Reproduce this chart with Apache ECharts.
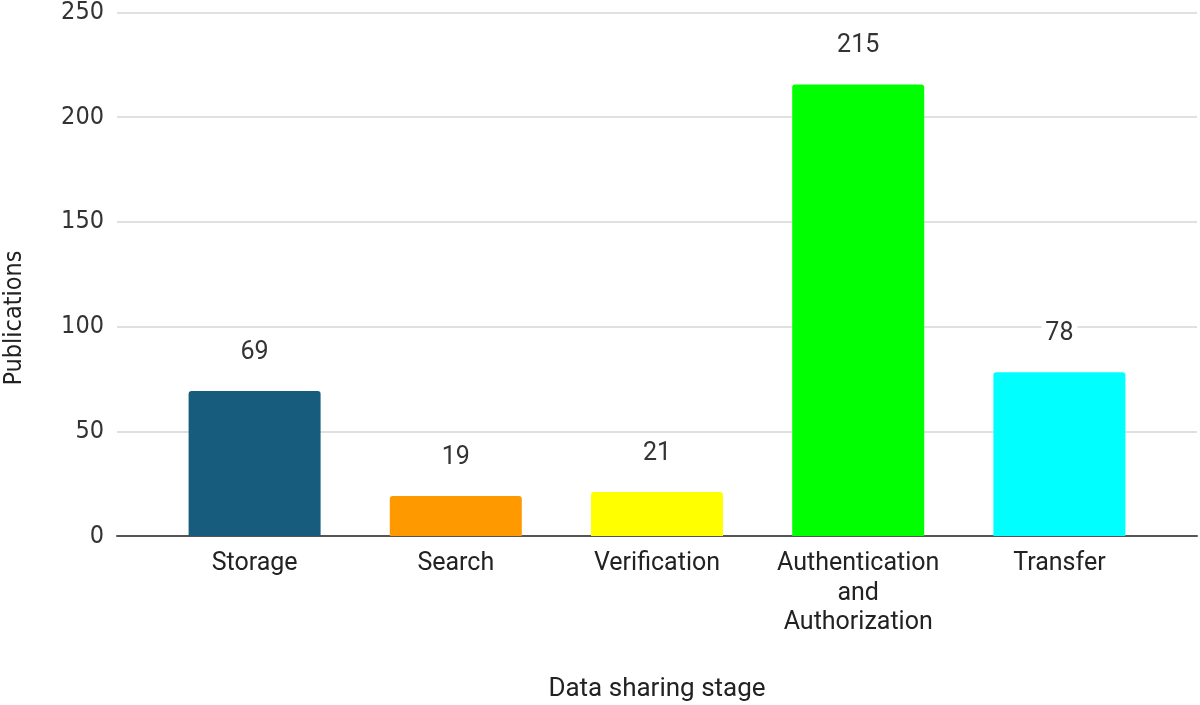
<!DOCTYPE html>
<html>
<head>
<meta charset="utf-8">
<script src="https://cdn.jsdelivr.net/npm/echarts@6/dist/echarts.min.js"></script>
<style>
html,body{margin:0;padding:0;background:#fff;}
#chart{width:1200px;height:705px;}
</style>
</head>
<body>
<div id="chart"></div>
<script>
var categories = ['Storage', 'Search', 'Verification', 'Authentication\nand\nAuthorization', 'Transfer'];
var publications = [69, 19, 21, 215, 78];
var barColors = ['#175c7d', '#ff9900', '#ffff00', '#00ff00', '#00ffff'];
var yTicks = [0, 50, 100, 150, 200, 250];
var xTitle = 'Data sharing stage';
var yTitle = 'Publications';

var chart = echarts.init(document.getElementById('chart'), null, {renderer: 'canvas'});
var tickFont = "'Liberation Sans Narrow', 'DejaVu Sans Condensed', Roboto, sans-serif";
var option = {
  backgroundColor: '#ffffff',
  animation: false,
  grid: [
    {left: 117, right: 3, top: 11, bottom: 169},
    {left: 154, right: 40, top: 11, bottom: 169}
  ],
  xAxis: [
    {
      type: 'value', gridIndex: 0, min: 0, max: 1,
      axisLine: {show: true, lineStyle: {color: '#555555', width: 2}},
      axisTick: {show: false}, axisLabel: {show: false}, splitLine: {show: false}
    },
    {
      type: 'category', gridIndex: 1, data: categories,
      axisLine: {show: false}, axisTick: {show: false},
      axisLabel: {
        interval: 0, margin: 13, color: '#222222',
        fontFamily: 'Roboto', fontSize: 25, lineHeight: 29.5, align: 'center'
      }
    }
  ],
  yAxis: [
    {
      type: 'value', gridIndex: 0, min: yTicks[0], max: yTicks[yTicks.length - 1], interval: 50,
      axisLine: {show: false}, axisTick: {show: false},
      axisLabel: {margin: 13, color: '#333333', fontFamily: tickFont, fontSize: 25},
      splitLine: {show: true, lineStyle: {color: '#d6d6d6', width: 1.5}}
    },
    {
      type: 'value', gridIndex: 1, min: yTicks[0], max: yTicks[yTicks.length - 1], interval: 50,
      show: false, splitLine: {show: false}
    }
  ],
  series: [{
    type: 'bar', xAxisIndex: 1, yAxisIndex: 1,
    data: publications.map(function (v, i) {
      return {value: v, itemStyle: {color: barColors[i]}};
    }),
    barWidth: 132,
    itemStyle: {borderRadius: [3, 3, 0, 0]},
    z: 1,
    label: {
      show: true, position: 'top', distance: 26,
      color: '#333333', fontFamily: 'Roboto', fontSize: 25,
      backgroundColor: '#ffffff', padding: [0, 4]
    }
  }],
  graphic: [
    {
      type: 'text', x: 14, y: 318, rotation: Math.PI / 2,
      style: {text: yTitle, fill: '#222222', font: "25px " + tickFont, textAlign: 'center', textVerticalAlign: 'middle'}
    },
    {
      type: 'text', x: 657, y: 689,
      style: {text: xTitle, fill: '#222222', font: "26px Roboto", textAlign: 'center', textVerticalAlign: 'middle'}
    }
  ]
};
chart.setOption(option);
</script>
</body>
</html>
